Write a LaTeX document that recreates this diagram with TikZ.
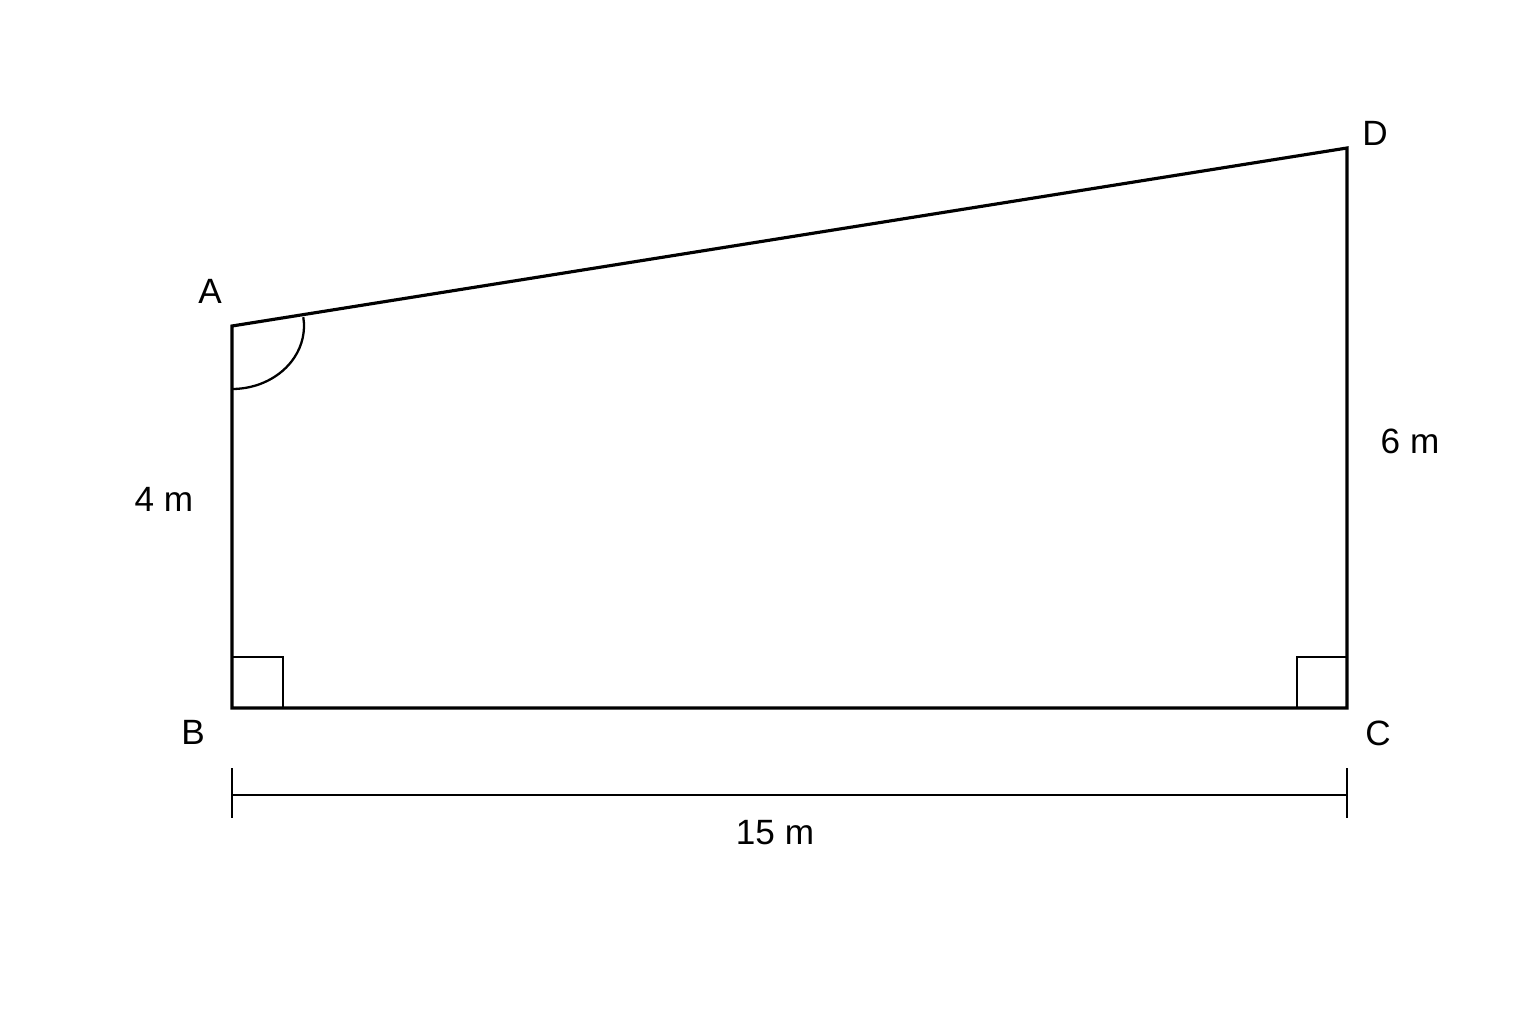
\documentclass[tikz,border=0pt]{standalone}
\usepackage{fontspec}
\setmainfont{Liberation Sans}
\usepackage{tikz}
\usetikzlibrary{positioning, calc}

\begin{document}
\begin{tikzpicture}[edge/.style={line width=0.9pt}, mark90/.style={line width=0.65pt}, lbl/.style={inner sep=0pt, font=\fontsize{10}{12}\selectfont}]
      \useasboundingbox (0,0) rectangle (15.36,10.24);
      \coordinate (A) at (2.32,6.98);
      \coordinate (B) at (2.32,3.16);
      \coordinate (C) at (13.47,3.16);
      \coordinate (D) at (13.47,8.76);

      \draw [edge] (A) -- (B) -- (C) -- (D) -- cycle;

      % right angles and the angle at A
      \draw [mark90] ($(B)+(0,0.51)$) -- ++(0.51,0) -- ++(0,-0.51);
      \draw [mark90] ($(C)+(0,0.51)$) -- ++(-0.50,0) -- ++(0,-0.51);
      \draw [mark90] ($(A)+(0,-0.63)$) arc[start angle=-90, end angle=8, x radius=0.72, y radius=0.63];

      % dimension line
      \coordinate (dimB) at (2.32,2.29);
      \coordinate (dimC) at (13.47,2.29);
      \draw [mark90] (dimB) -- (dimC);
      \draw [mark90] ($(dimB)+(0,0.27)$) -- ($(dimB)+(0,-0.23)$);
      \draw [mark90] ($(dimC)+(0,0.27)$) -- ($(dimC)+(0,-0.23)$);

      \node[lbl] (labA) at (2.10,7.33) {A};
      \node[lbl] (labB) at (1.93,2.92) {B};
      \node[lbl] (labC) at (13.78,2.91) {C};
      \node[lbl] (labD) at (13.75,8.91) {D};
      \node[lbl] (lenAB) at (1.64,5.25) {4 m};
      \node[lbl] (lenCD) at (14.10,5.83) {6 m};
      \node[lbl] (lenBC) at (7.75,1.91) {15 m};
    \end{tikzpicture}
\end{document}
